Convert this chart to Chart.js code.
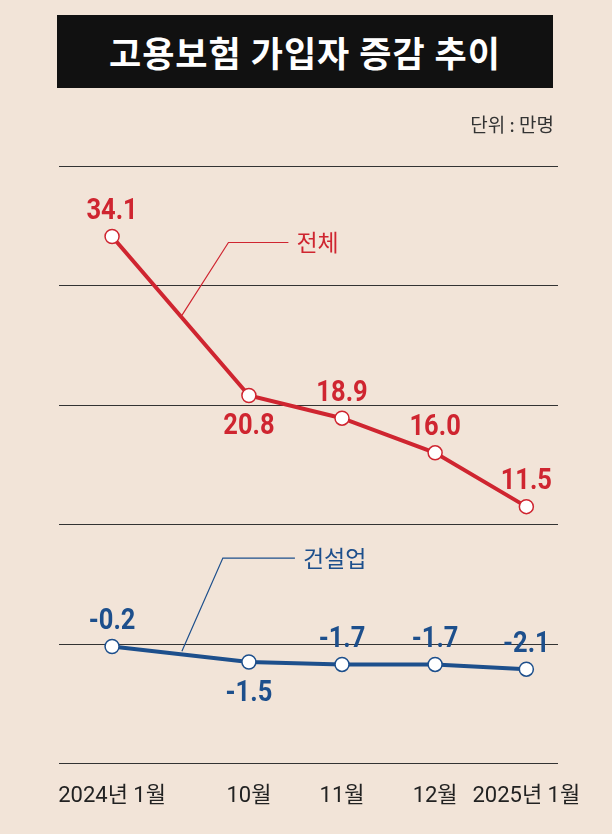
<!DOCTYPE html>
<html><head><meta charset="utf-8">
<script src="https://cdn.jsdelivr.net/npm/chart.js@4"></script>
<style>
body{margin:0;background:#f2e4d8;width:612px;height:834px;overflow:hidden;position:relative;font-family:"Noto Sans CJK KR",sans-serif}
#title{position:absolute;left:57px;top:15px;width:496px;height:73px;background:#111;color:#fff;font-size:35px;font-weight:bold;text-align:center;line-height:73px;letter-spacing:1px}
#unit{position:absolute;right:58px;top:110px;font-size:19px;color:#333}
#wrap{position:absolute;left:0;top:0;width:612px;height:834px}
</style></head><body>
<div id="wrap"><canvas id="c"></canvas></div>
<div id="title">고용보험 가입자 증감 추이</div>
<div id="unit">단위 : 만명</div>
<script>
// ── data ──
const MONTHS = ['2024년 1월', '10월', '11월', '12월', '2025년 1월'];
const X_POS = [0, 1.47, 2.47, 3.47, 4.45];
const TOTAL = [34.1, 20.8, 18.9, 16.0, 11.5];
const CONSTR = [-0.2, -1.5, -1.7, -1.7, -2.1];
const TOTAL_BELOW = [false, true, false, false, false];
const CONSTR_BELOW = [false, true, false, false, false];
const RED = '#cf2530', BLUE = '#1d4f8c';

const pts = arr => arr.map((v, i) => ({ x: X_POS[i], y: v }));

// value labels + series name callouts
const labelPlugin = {
    id: 'labels',
    afterDatasetsDraw(chart) {
        const ctx = chart.ctx;
        const xs = chart.scales.x, ys = chart.scales.y;
        ctx.save();
        ctx.font = 'bold 30px "Roboto",sans-serif';
        ctx.textAlign = 'center';
        chart.data.datasets.forEach((ds, di) => {
            const below = di === 0 ? TOTAL_BELOW : CONSTR_BELOW;
            ctx.fillStyle = ds.borderColor;
            chart.getDatasetMeta(di).data.forEach((p, i) => {
                const v = ds.data[i].y;
                ctx.textBaseline = below[i] ? 'top' : 'bottom';
                ctx.save();
                ctx.translate(p.x, below[i] ? p.y + 16 : p.y - 10);
                ctx.scale(0.85, 1);
                ctx.fillText(v.toFixed(1), 0, 0);
                ctx.restore();
            });
        });
        // callouts
        const callout = (color, text, ax, ay, bx, by, tx) => {
            ctx.strokeStyle = color; ctx.lineWidth = 1.2;
            ctx.beginPath(); ctx.moveTo(ax, ay); ctx.lineTo(bx, by); ctx.lineTo(tx - 8, by); ctx.stroke();
            ctx.font = '23px "Noto Sans CJK KR",sans-serif';
            ctx.fillStyle = color; ctx.textAlign = 'left'; ctx.textBaseline = 'middle';
            ctx.fillText(text, tx, by);
        };
        callout(RED, '전체', xs.getPixelForValue(0.75), ys.getPixelForValue(27.5),
            xs.getPixelForValue(1.25), ys.getPixelForValue(33.6), xs.getPixelForValue(1.98));
        callout(BLUE, '건설업', xs.getPixelForValue(0.75), ys.getPixelForValue(-0.6),
            xs.getPixelForValue(1.19), ys.getPixelForValue(7.2), xs.getPixelForValue(2.05));
        ctx.restore();
    }
};

new Chart(document.getElementById('c'), {
    type: 'line',
    data: {
        datasets: [
            { data: pts(TOTAL), borderColor: RED },
            { data: pts(CONSTR), borderColor: BLUE },
        ].map(d => ({
            ...d, borderWidth: 4, tension: 0, pointRadius: 7, pointBorderWidth: 1.5,
            pointBackgroundColor: '#fff', pointBorderColor: d.borderColor,
        }))
    },
    options: {
        responsive: true, maintainAspectRatio: false, animation: false,
        layout: { padding: { left: 59, right: 54, top: 166, bottom: 12 } },
        plugins: { legend: { display: false }, tooltip: { enabled: false } },
        scales: {
            x: {
                type: 'linear', min: -0.57, max: 4.79,
                afterBuildTicks: a => { a.ticks = X_POS.map(v => ({ value: v })); },
                grid: { display: false }, border: { display: false },
                ticks: {
                    autoSkip: false, maxRotation: 0, padding: 12, color: '#222',
                    font: { size: 22, family: '"Roboto","Noto Sans CJK KR",sans-serif' },
                    callback: v => MONTHS[X_POS.indexOf(v)]
                }
            },
            y: {
                min: -10, max: 40, display: true,
                ticks: { display: false, stepSize: 10 },
                grid: { color: '#333', lineWidth: 1, drawTicks: false },
                border: { display: false }
            }
        }
    },
    plugins: [labelPlugin]
});
</script>
</body></html>
